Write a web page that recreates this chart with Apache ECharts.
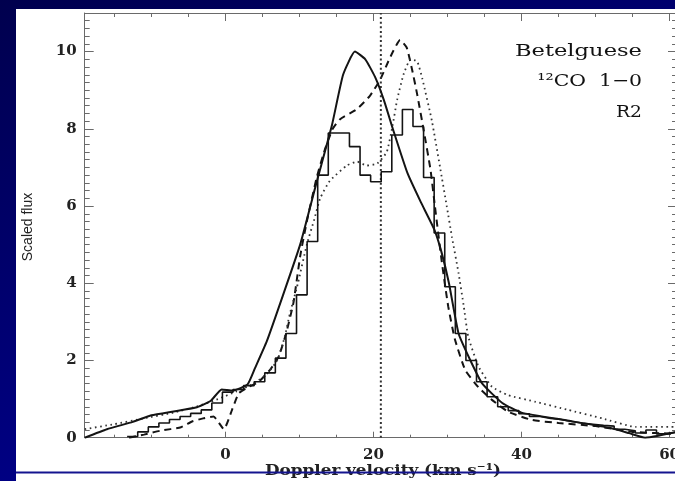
<!DOCTYPE html>
<html>
<head>
<meta charset="utf-8">
<script src="https://cdn.jsdelivr.net/npm/echarts@6/dist/echarts.min.js"></script>
<style>
  html, body { margin: 0; padding: 0; }
  #chart { width: 675px; height: 481px; }
</style>
</head>
<body>
<div id="chart"></div>
<script>
// Betelgeuse 12CO J=1-0 line profile, region R2: observed spectrum (histogram)
// and three model profiles, with the systemic velocity marked.

// Observed channels (km/s, scaled flux)
const channelStart = -13.27;
const channelWidth = 1.43;
const observedFlux = [
  0.03, 0.15, 0.28, 0.38, 0.47, 0.55, 0.63, 0.72, 0.90, 1.18,
  1.25, 1.35, 1.45, 1.68, 2.06, 2.70, 3.70, 5.08, 6.80, 7.89,
  7.89, 7.54, 6.80, 6.63, 6.89, 7.84, 8.50, 8.06, 6.74, 5.30,
  3.91, 2.70, 2.00, 1.45, 1.06, 0.80, 0.70, 0.62, 0.55, 0.50,
  0.47, 0.42, 0.38, 0.35, 0.32, 0.30, 0.22, 0.18, 0.12, 0.20,
  0.10, 0.15
];

// Model A (solid)
const modelAVel = [-19, -16, -12.5, -10, -7, -4, -2, -0.5, 1, 3, 4, 5.6, 7.8, 10.1, 12.3, 14.4, 15.9, 17.5,
  18.9, 20.2, 21.4, 22.7, 24.6, 26.4, 28.2, 29.2, 30.2, 31.5, 33.1, 34.7, 37.4, 40, 46, 52, 54.5, 56.7, 58.5, 61];
const modelAFlux = [0, 0.22, 0.41, 0.58, 0.68, 0.78, 0.95, 1.25, 1.22, 1.38, 1.8, 2.5, 3.7, 5.0, 6.6, 8.1, 9.4, 10.0,
  9.8, 9.35, 8.75, 7.95, 6.85, 6.1, 5.4, 4.8, 4.0, 2.7, 2.0, 1.4, 0.9, 0.65, 0.45, 0.25, 0.12, 0.0, 0.05, 0.15];

// Model B (dashed)
const modelBVel = [-13, -11, -8.8, -6, -4.5, -3, -1.6, -0.2, 0.9, 1.8, 3, 4.5, 6, 7.2, 8.2, 9.2, 10.1, 11, 12.35,
  13.5, 14.5, 15.5, 17.7, 19.5, 20.9, 22.3, 23.6, 24.5, 25.2, 25.9, 26.8, 27.7, 28.3, 29.2, 30.1, 31, 32.4, 34.2,
  36, 38.2, 41.4, 45, 50, 55, 61];
const modelBFlux = [0, 0.08, 0.18, 0.27, 0.42, 0.5, 0.55, 0.22, 0.72, 1.15, 1.3, 1.45, 1.75, 2.1, 2.7, 3.5, 4.7, 5.6, 6.75,
  7.5, 8.0, 8.25, 8.5, 8.85, 9.27, 9.87, 10.3, 10.1, 9.55, 8.9, 7.95, 6.95, 6.0, 4.6, 3.4, 2.55, 1.75, 1.3,
  0.98, 0.67, 0.46, 0.38, 0.3, 0.15, 0.1];

// Model C (dotted)
const modelCVel = [-19, -15, -11, -7, -4, -1, 1.5, 3.8, 5.6, 7, 8, 8.7, 9.8, 11, 12, 12.8, 14.1, 16.4, 17.8, 19.1,
  20.5, 21.8, 22.6, 23.2, 24.05, 25, 25.9, 26.6, 27.9, 29, 29.9, 30.6, 31.5, 32.2, 32.8, 34.2, 36, 38.2, 41.9,
  46.3, 50.9, 55.4, 61];
const modelCFlux = [0.22, 0.35, 0.5, 0.65, 0.8, 1.0, 1.2, 1.4, 1.65, 2.0, 2.6, 3.2, 4.0, 5.0, 5.65, 6.2, 6.65, 7.05, 7.15, 7.05,
  7.1, 7.4, 8.1, 8.75, 9.4, 9.8, 9.75, 9.3, 8.2, 7.0, 6.0, 5.2, 4.26, 3.4, 2.62, 1.84, 1.32, 1.1, 0.93,
  0.72, 0.5, 0.28, 0.28];

// Systemic velocity marker
const systemicVelocity = 21;

// Axis ticks
const velocityMin = -19, velocityMax = 61;
const fluxMin = 0, fluxMax = 11;
const velocityMajorTicks = [0, 20, 40, 60];
const velocityMinorTicks = [-15, -10, -5, 0, 5, 10, 15, 20, 25, 30, 35, 40, 45, 50, 55, 60];
const fluxMajorStep = 2;
const fluxMinorStep = 0.2;

const pairs = (xs, ys) => xs.map((x, i) => [x, ys[i]]);

const observedPoints = observedFlux.map((v, i) => [channelStart + i * channelWidth, v]);
observedPoints.push([channelStart + observedFlux.length * channelWidth, observedFlux[observedFlux.length - 1]]);

const ink = '#141414';
const frame = '#6a6a6a';
const labelFont = { fontFamily: 'DejaVu Serif', fontWeight: 'bold', fontSize: 15, color: '#222' };

// The frame's right edge sits just past the canvas edge.
const gridBox = { left: 84.7, right: -2, top: 13, bottom: 43.3, outerBoundsMode: 'none', containLabel: false };

// showLabels: true = labelled frame edge, false = unlabelled frame edge, null = extra tick row only
function velocityAxis(gridIndex, position, ticks, len, showLabels) {
  return {
    type: 'value', gridIndex, position, min: velocityMin, max: velocityMax,
    axisLine: { show: showLabels !== null, onZero: false, lineStyle: { color: frame, width: 1 } },
    axisTick: { show: true, inside: true, length: len, customValues: ticks, lineStyle: { color: frame, width: 1 } },
    axisLabel: showLabels ? Object.assign({ show: true, margin: 10, customValues: velocityMajorTicks }, labelFont) : { show: false },
    splitLine: { show: false }
  };
}

function fluxAxis(gridIndex, position, step, len, showLabels) {
  return {
    type: 'value', gridIndex, position, min: fluxMin, max: fluxMax, interval: step,
    axisLine: { show: showLabels !== null, onZero: false, lineStyle: { color: frame, width: 1 } },
    axisTick: { show: true, inside: true, length: len, lineStyle: { color: frame, width: 1 } },
    axisLabel: showLabels ? Object.assign({
      show: true, margin: 8, formatter: v => (v > 10 ? '' : String(v))
    }, labelFont) : { show: false },
    splitLine: { show: false }
  };
}

const chart = echarts.init(document.getElementById('chart'), null, { renderer: 'canvas' });

chart.setOption({
  animation: false,
  backgroundColor: {
    type: 'linear', x: 0, y: 0, x2: 0.3, y2: 1,
    colorStops: [{ offset: 0, color: '#00004e' }, { offset: 1, color: '#00008c' }]
  },
  grid: [
    Object.assign({}, gridBox),
    Object.assign({}, gridBox)
  ],
  xAxis: [
    velocityAxis(0, 'bottom', velocityMajorTicks, 6, true),
    velocityAxis(0, 'top', velocityMajorTicks, 8, false),
    velocityAxis(1, 'bottom', velocityMinorTicks, 3, null),
    velocityAxis(1, 'top', velocityMinorTicks, 4, null)
  ],
  yAxis: [
    fluxAxis(0, 'left', fluxMajorStep, 9, true),
    fluxAxis(0, 'right', fluxMajorStep, 9, false),
    fluxAxis(1, 'left', fluxMinorStep, 5, null),
    fluxAxis(1, 'right', fluxMinorStep, 5, null)
  ],
  series: [
    {
      name: 'observed', type: 'line', xAxisIndex: 0, yAxisIndex: 0,
      data: observedPoints, step: 'end', showSymbol: false,
      lineStyle: { color: ink, width: 1.6 }, z: 4
    },
    {
      name: 'model A', type: 'line', xAxisIndex: 0, yAxisIndex: 0,
      data: pairs(modelAVel, modelAFlux), smooth: 0.15, showSymbol: false,
      lineStyle: { color: ink, width: 2 }, z: 5
    },
    {
      name: 'model B', type: 'line', xAxisIndex: 0, yAxisIndex: 0,
      data: pairs(modelBVel, modelBFlux), smooth: 0.15, showSymbol: false,
      lineStyle: { color: ink, width: 2, type: [7, 5] }, z: 3
    },
    {
      name: 'model C', type: 'line', xAxisIndex: 0, yAxisIndex: 0,
      data: pairs(modelCVel, modelCFlux), smooth: 0.15, showSymbol: false,
      lineStyle: { color: '#333', width: 1.8, type: [1.6, 3.6] }, z: 3
    },
    {
      name: 'systemic', type: 'line', xAxisIndex: 0, yAxisIndex: 0,
      data: [[systemicVelocity, fluxMin], [systemicVelocity, fluxMax]], showSymbol: false,
      lineStyle: { color: '#333', width: 2, type: [2, 2.6] }, z: 3
    }
  ],
  graphic: [
    { type: 'rect', z: -10, shape: { x: 16, y: 9, width: 659, height: 472 }, style: { fill: '#ffffff' } },
    { type: 'text', x: 642, y: 52, scaleX: 1.33,
      style: { text: 'Betelguese', textAlign: 'right', textVerticalAlign: 'middle', font: '17px "DejaVu Serif"', fill: '#111' } },
    { type: 'text', x: 642, y: 82, scaleX: 1.2,
      style: { text: '\u00b9\u00b2CO  1\u22120', textAlign: 'right', textVerticalAlign: 'middle', font: '17px "DejaVu Serif"', fill: '#111' } },
    { type: 'text', x: 642, y: 113, scaleX: 1.1,
      style: { text: 'R2', textAlign: 'right', textVerticalAlign: 'middle', font: '17px "DejaVu Serif"', fill: '#111' } },
    { type: 'text', x: 28, y: 227, rotation: Math.PI / 2,
      style: { text: 'Scaled flux', textAlign: 'center', textVerticalAlign: 'middle', font: '14px "Liberation Sans"', fill: '#222' } },
    { type: 'text', x: 383, y: 471, scaleX: 1.12,
      style: { text: 'Doppler velocity (km s\u207b\u00b9)', textAlign: 'center', textVerticalAlign: 'middle', font: 'bold 15px "DejaVu Serif"', fill: '#222' } },
    { type: 'line', z: 50, shape: { x1: 16, y1: 472.5, x2: 675, y2: 472.5 }, style: { stroke: '#14148f', lineWidth: 2 } }
  ]
});
</script>
</body>
</html>
